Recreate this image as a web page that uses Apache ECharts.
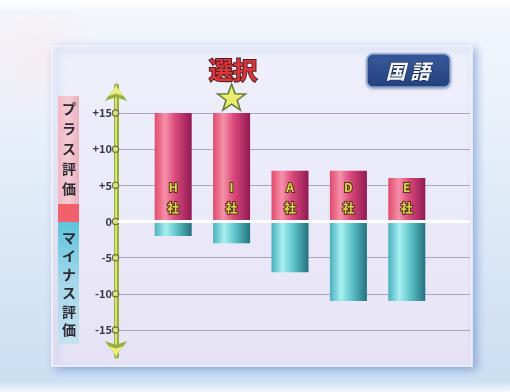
<!DOCTYPE html>
<html>
<head>
<meta charset="utf-8">
<script src="https://cdn.jsdelivr.net/npm/echarts@6/dist/echarts.min.js"></script>
<style>
  html, body { margin: 0; padding: 0; background: #ffffff; }
  #chart { width: 510px; height: 392px; }
</style>
</head>
<body>
<div id="chart"></div>
<script>
// Companies and their plus / minus evaluation scores
var companies = ['H社', 'I社', 'A社', 'D社', 'E社'];
var plusScores = [15, 15, 7, 7, 6];
var minusScores = [-2, -3, -7, -11, -11];
var selectedCompany = 'I社';

// Vertical scale ticks
var yTicks = [-15, -10, -5, 0, 5, 10, 15];
var tickLabels = ['-15', '-10', '-5', '0', '+5', '+10', '+15'];

var titleText = '選択';
var subjectText = '国 語';
var plusCaption = 'プラス評価';
var minusCaption = 'マイナス評価';

var FONT = '"Noto Sans CJK JP", "Noto Sans", sans-serif';
var STAR = 'path://M50,0 L62,34 L98,35 L69,57 L80,92 L50,71 L20,92 L31,57 L2,35 L38,34 Z';

function vertical(s) { return s.split('').join('\n'); }

var chart = echarts.init(document.getElementById('chart'), null, { renderer: 'canvas' });

var selIdx = companies.indexOf(selectedCompany);

var option = {
  animation: false,
  backgroundColor: {
    type: 'linear', x: 0, y: 0, x2: 0, y2: 1,
    colorStops: [
      { offset: 0, color: '#ffffff' },
      { offset: 0.03, color: '#f3f7fc' },
      { offset: 0.5, color: '#e0ebf8' },
      { offset: 0.97, color: '#cbdef2' },
      { offset: 1, color: '#f4f8fc' }
    ]
  },
  title: {
    text: titleText,
    left: 204, top: 53,
    textStyle: {
      fontFamily: FONT, fontSize: 24, fontWeight: 'bold',
      color: '#d8383c', textBorderColor: '#5a1c20', textBorderWidth: 2
    }
  },
  graphic: [
    // faint pink haze in the upper-left corner
    { type: 'rect', z: -10, shape: { x: 0, y: 12, width: 120, height: 120 },
      style: { fill: { type: 'radial', x: 0.3, y: 0.4, r: 0.6,
        colorStops: [{ offset: 0, color: 'rgba(250,232,238,0.6)' }, { offset: 1, color: 'rgba(250,232,238,0)' }] } } },
    // panel
    { type: 'rect', z: -5, shape: { x: 52, y: 46, width: 420, height: 320 },
      style: {
        fill: { type: 'linear', x: 0, y: 0, x2: 0, y2: 1,
          colorStops: [{ offset: 0, color: '#eef0fb' }, { offset: 1, color: '#e7e3f6' }] },
        stroke: '#f6f4fc', lineWidth: 1.5,
        shadowBlur: 8, shadowOffsetX: 4, shadowOffsetY: 3, shadowColor: 'rgba(70,110,190,0.45)'
      } },
    // caption band: plus
    { type: 'rect', z: -4, shape: { x: 58, y: 96, width: 21, height: 108 },
      style: { fill: { type: 'linear', x: 0, y: 0, x2: 1, y2: 0,
        colorStops: [{ offset: 0, color: '#f0b8c4' }, { offset: 0.5, color: '#f6ccd4' }, { offset: 1, color: '#eab0be' }] } } },
    { type: 'rect', z: -4, shape: { x: 58, y: 204, width: 21, height: 18 },
      style: { fill: '#f2606c' } },
    // caption band: minus
    { type: 'rect', z: -4, shape: { x: 58, y: 222, width: 21, height: 122 },
      style: { fill: { type: 'linear', x: 0, y: 0, x2: 0, y2: 1,
        colorStops: [{ offset: 0, color: '#5cc4dc' }, { offset: 0.5, color: '#a6d8ea' }, { offset: 1, color: '#c4e2f2' }] } } },
    { type: 'text', z: 5, style: { x: 69, y: 99, text: vertical(plusCaption), align: 'center', verticalAlign: 'top',
        fill: '#2e2a34', font: 'bold 14px ' + FONT, lineHeight: 20 } },
    { type: 'text', z: 5, style: { x: 69, y: 228, text: vertical(minusCaption), align: 'center', verticalAlign: 'top',
        fill: '#2e2a34', font: 'bold 14px ' + FONT, lineHeight: 18.5 } },
    // subject badge
    { type: 'rect', z: 5, shape: { x: 367, y: 54, width: 83, height: 33, r: 6 },
      style: { fill: { type: 'linear', x: 0, y: 0, x2: 0, y2: 1,
        colorStops: [{ offset: 0, color: '#3a5a9c' }, { offset: 1, color: '#22407c' }] },
        stroke: '#8ea4d0', lineWidth: 1.5, shadowBlur: 3, shadowColor: 'rgba(30,50,110,0.4)', shadowOffsetY: 1 } },
    { type: 'text', z: 6, style: { x: 408, y: 71, text: subjectText, align: 'center', verticalAlign: 'middle',
        fill: '#f4f6fa', stroke: '#1c2a50', lineWidth: 1,
        font: 'italic bold 20px ' + FONT } }
  ],
  grid: [
    { left: 118, right: 40, top: 113, height: 217 },   // gridlines + scale
    { left: 144, width: 292, top: 113, height: 217 },   // bars
    { left: 116, width: 1, top: 86, height: 270 }       // axis arrow
  ],
  xAxis: [
    { gridIndex: 0, type: 'value', min: 0, max: 1, show: false },
    { gridIndex: 1, type: 'category', data: companies, show: false },
    { gridIndex: 2, type: 'value', min: 0, max: 1, show: false }
  ],
  yAxis: [
    { gridIndex: 0, type: 'value', min: -15, max: 15, interval: 5,
      axisLine: { show: false }, axisTick: { show: false },
      splitLine: { lineStyle: { color: '#a9a5c2', width: 1 } },
      axisLabel: {
        margin: 0,
        formatter: function (v) {
          var i = yTicks.indexOf(v);
          return '{t|' + (i >= 0 ? tickLabels[i] : v) + '}{c|}';
        },
        rich: {
          t: { fontFamily: FONT, fontSize: 11, fontWeight: 'bold', color: '#3a3640', padding: [0, 1, 0, 0] },
          c: { width: 5, height: 5, borderRadius: 3, borderColor: '#6a7030', borderWidth: 1.2, backgroundColor: '#dde28a' }
        }
      } },
    { gridIndex: 1, type: 'value', min: -15, max: 15, interval: 5, show: false },
    { gridIndex: 2, type: 'value', min: 0, max: 1, position: 'left',
      axisLine: { show: true, symbol: ['arrow', 'arrow'], symbolSize: [17, 15],
        lineStyle: { color: '#98b040', width: 5 } },
      axisTick: { show: false }, axisLabel: { show: false }, splitLine: { show: false } },
    { gridIndex: 2, type: 'value', min: 0, max: 1, position: 'left',
      axisLine: { show: true, symbol: ['arrow', 'arrow'], symbolSize: [11, 10],
        lineStyle: { color: '#ecee84', width: 1.6 } },
      axisTick: { show: false }, axisLabel: { show: false }, splitLine: { show: false } }
  ],
  series: [
    {
      // zero reference line across the panel
      type: 'line', xAxisIndex: 0, yAxisIndex: 0, z: 6,
      data: [[0, 0]], showSymbol: false, symbol: 'none', lineStyle: { opacity: 0 },
      markLine: {
        silent: true, symbol: 'none', label: { show: false },
        lineStyle: { color: '#ffffff', width: 3, type: 'solid', opacity: 1 },
        data: [{ yAxis: 0 }]
      }
    },
    {
      name: 'プラス評価', type: 'bar', xAxisIndex: 1, yAxisIndex: 1, stack: 'score', z: 3,
      barWidth: 37,
      data: plusScores,
      itemStyle: {
        color: { type: 'linear', x: 0, y: 0, x2: 1, y2: 0,
          colorStops: [
            { offset: 0, color: '#e04a6c' },
            { offset: 0.28, color: '#f690aa' },
            { offset: 0.55, color: '#dc4a7c' },
            { offset: 1, color: '#901a52' }
          ] }
      },
      label: {
        show: true, position: 'insideBottom', distance: 3,
        formatter: function (p) { return vertical(p.name); },
        fontFamily: FONT, fontSize: 12, fontWeight: 'bold', lineHeight: 21,
        color: '#d6d84a', textBorderColor: '#5a3218', textBorderWidth: 2
      }
    },
    {
      name: 'マイナス評価', type: 'bar', xAxisIndex: 1, yAxisIndex: 1, stack: 'score', z: 3,
      barWidth: 37,
      data: minusScores,
      itemStyle: {
        color: { type: 'linear', x: 0, y: 0, x2: 1, y2: 0,
          colorStops: [
            { offset: 0, color: '#48b0bc' },
            { offset: 0.3, color: '#a8f0f2' },
            { offset: 0.6, color: '#5cc2c8' },
            { offset: 1, color: '#24727e' }
          ] }
      }
    },
    {
      // star over the selected company
      type: 'scatter', xAxisIndex: 1, yAxisIndex: 1, z: 5, clip: false, silent: true,
      symbol: STAR, symbolSize: [28, 26],
      itemStyle: { color: '#eaea4a', borderColor: '#3e5e1e', borderWidth: 1.5 },
      data: [[selectedCompany, plusScores[selIdx] + 2.2]]
    }
  ]
};

chart.setOption(option);
</script>
</body>
</html>
